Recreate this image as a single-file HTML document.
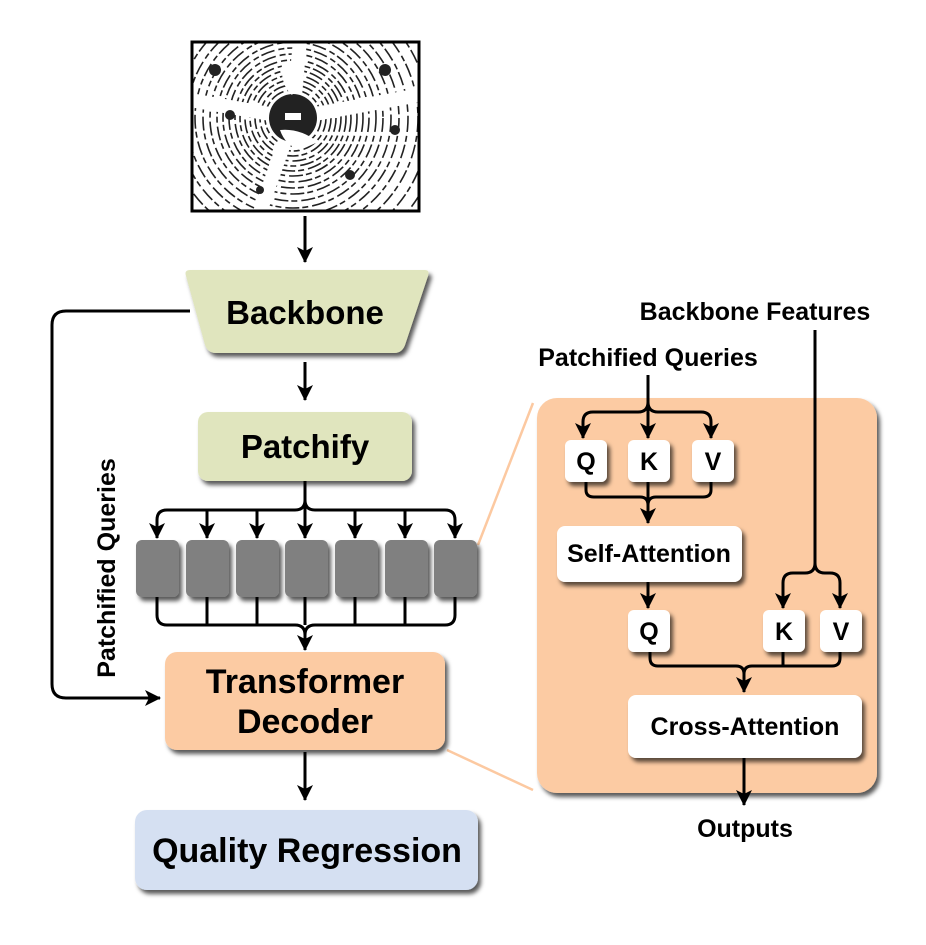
<!DOCTYPE html>
<html><head><meta charset="utf-8"><style>
html,body{margin:0;padding:0;background:#fff}
svg{display:block}
text{font-family:"Liberation Sans",Arial,sans-serif;font-weight:bold;fill:#000}
</style></head><body>
<svg width="926" height="945" viewBox="0 0 926 945" xmlns="http://www.w3.org/2000/svg">
<defs>
<filter id="sh" x="-10%" y="-10%" width="130%" height="130%">
<feDropShadow dx="3" dy="4" stdDeviation="2" flood-color="#000" flood-opacity="0.65"/>
</filter>
<clipPath id="ic"><rect x="193" y="43" width="225" height="167"/></clipPath>
<marker id="a" markerWidth="18" markerHeight="18" refX="16" refY="9" orient="auto" markerUnits="userSpaceOnUse" viewBox="0 0 18 18">
<path d="M1,1 L17,9 L1,17 L5,9 Z" fill="#000"/>
</marker>
</defs>

<g clip-path="url(#ic)">
<rect x="193" y="43" width="225" height="167" fill="#fff"/>
<g fill="none" stroke="#222" stroke-width="1.6" stroke-dasharray="14 4 6 3">
<circle cx="293" cy="118" r="28"/><circle cx="293" cy="118" r="33"/><circle cx="293" cy="118" r="38"/>
<circle cx="293" cy="118" r="43"/><circle cx="293" cy="118" r="48"/><circle cx="293" cy="118" r="53"/>
<circle cx="293" cy="118" r="58"/><circle cx="293" cy="118" r="64"/><circle cx="293" cy="118" r="70"/>
<circle cx="293" cy="118" r="76"/><circle cx="293" cy="118" r="83"/><circle cx="293" cy="118" r="90"/>
<circle cx="293" cy="118" r="98"/><circle cx="293" cy="118" r="106"/><circle cx="293" cy="118" r="115"/>
<circle cx="293" cy="118" r="125"/><circle cx="293" cy="118" r="136"/><circle cx="293" cy="118" r="148"/>
</g>
<g stroke="#fff" stroke-width="14">
<line x1="293" y1="118" x2="190" y2="100"/><line x1="293" y1="118" x2="420" y2="95"/>
<line x1="293" y1="118" x2="300" y2="40"/><line x1="293" y1="118" x2="260" y2="212"/>
</g>
<circle cx="293" cy="118" r="24" fill="#222"/>
<rect x="285" y="113" width="16" height="7" fill="#fff"/>
<path d="M280,130 Q300,128 318,142 L300,150 Q285,145 280,130Z" fill="#fff"/>
<path d="M282,62 Q298,58 302,80 L292,95 Q280,85 282,62Z" fill="#fff"/>
<g fill="#222"><circle cx="215" cy="70" r="6"/><circle cx="385" cy="70" r="6"/><circle cx="230" cy="115" r="5"/><circle cx="395" cy="130" r="5"/><circle cx="260" cy="190" r="4"/><circle cx="350" cy="175" r="5"/></g>
</g>
<rect x="192" y="42" width="227" height="169" fill="none" stroke="#000" stroke-width="3"/>

<g stroke="#000" stroke-width="3" fill="none">
<line x1="305" y1="216" x2="305" y2="262" marker-end="url(#a)"/>
<line x1="305" y1="362" x2="305" y2="400" marker-end="url(#a)"/>
<path d="M190,311 H66 Q52,311 52,325 V684 Q52,698 66,698 H160" marker-end="url(#a)"/>
<path d="M305,481 V500 Q305,510 295,510 H167 Q157,510 157,520 V538" marker-end="url(#a)"/>
<path d="M305,500 Q305,510 315,510 H445 Q455,510 455,520 V538" marker-end="url(#a)"/>
<path d="M207,510 V538" marker-end="url(#a)"/>
<path d="M257,510 V538" marker-end="url(#a)"/>
<path d="M305,500 V538" marker-end="url(#a)"/>
<path d="M355,510 V538" marker-end="url(#a)"/>
<path d="M405,510 V538" marker-end="url(#a)"/>
<path d="M157,597 V615 Q157,625 167,625 H295 Q305,625 305,635 V650" marker-end="url(#a)"/>
<path d="M455,597 V615 Q455,625 445,625 H315 Q305,625 305,635"/>
<path d="M207,597 V625"/><path d="M257,597 V625"/><path d="M305,597 V625"/><path d="M355,597 V625"/><path d="M405,597 V625"/>
<line x1="305" y1="752" x2="305" y2="800" marker-end="url(#a)"/>
</g>

<line x1="478" y1="545" x2="533" y2="403" stroke="#fcc9a1" stroke-width="2.5"/>
<line x1="447" y1="750" x2="533" y2="790" stroke="#fcc9a1" stroke-width="2.5"/>

<path d="M190,270 H425 Q430,270 428,276 L405,345 Q402,353 394,353 H216 Q208,353 205,345 L186,276 Q184,270 190,270Z" fill="#e0e5be" filter="url(#sh)"/>
<text x="305" y="324" font-size="33" text-anchor="middle">Backbone</text>
<rect x="198" y="412" width="214" height="69" rx="10" fill="#e0e5be" filter="url(#sh)"/>
<text x="305" y="458" font-size="33" text-anchor="middle">Patchify</text>

<g fill="#808080" filter="url(#sh)">
<rect x="136" y="540" width="43" height="57" rx="6"/><rect x="186" y="540" width="43" height="57" rx="6"/>
<rect x="236" y="540" width="43" height="57" rx="6"/><rect x="285" y="540" width="43" height="57" rx="6"/>
<rect x="335" y="540" width="43" height="57" rx="6"/><rect x="385" y="540" width="43" height="57" rx="6"/>
<rect x="434" y="540" width="43" height="57" rx="6"/>
</g>

<rect x="165" y="652" width="280" height="98" rx="12" fill="#fccba3" filter="url(#sh)"/>
<text x="305" y="693" font-size="34" text-anchor="middle">Transformer</text>
<text x="305" y="733" font-size="34" text-anchor="middle">Decoder</text>

<rect x="135" y="810" width="343" height="80" rx="12" fill="#d5e0f2" filter="url(#sh)"/>
<text x="307" y="862" font-size="34" text-anchor="middle">Quality Regression</text>

<text transform="translate(115,568) rotate(-90)" font-size="25" text-anchor="middle">Patchified Queries</text>

<rect x="537" y="398" width="340" height="395" rx="20" fill="#fccba3" filter="url(#sh)"/>
<text x="755" y="320" font-size="25" text-anchor="middle">Backbone Features</text>
<text x="648" y="366" font-size="25" text-anchor="middle">Patchified Queries</text>

<g stroke="#000" stroke-width="3" fill="none">
<path d="M648,375 V438" marker-end="url(#a)"/>
<path d="M648,402 Q648,412 638,412 H593 Q583,412 583,422 V438" marker-end="url(#a)"/>
<path d="M648,402 Q648,412 658,412 H701 Q711,412 711,422 V438" marker-end="url(#a)"/>
<path d="M586,482 V490 Q586,497 594,497 H640 Q648,497 648,505 V523" marker-end="url(#a)"/>
<path d="M711,482 V490 Q711,497 703,497 H656 Q648,497 648,505"/>
<path d="M648,482 V505"/>
<path d="M648,582 V608" marker-end="url(#a)"/>
<path d="M815,330 V563 Q815,573 805,573 H793 Q783,573 783,583 V608" marker-end="url(#a)"/>
<path d="M815,563 Q815,573 825,573 H830 Q840,573 840,583 V608" marker-end="url(#a)"/>
<path d="M650,652 V658 Q650,666 658,666 H736 Q744,666 744,674 V692" marker-end="url(#a)"/>
<path d="M840,652 V658 Q840,666 832,666 H752 Q744,666 744,674"/>
<path d="M783,652 V666"/>
<path d="M744,758 V805" marker-end="url(#a)"/>
</g>

<g fill="#fff" filter="url(#sh)">
<rect x="565" y="440" width="42" height="42" rx="6"/><rect x="628" y="440" width="42" height="42" rx="6"/><rect x="692" y="440" width="42" height="42" rx="6"/>
<rect x="557" y="526" width="185" height="56" rx="8"/>
<rect x="628" y="610" width="42" height="42" rx="6"/><rect x="763" y="610" width="42" height="42" rx="6"/><rect x="820" y="610" width="42" height="42" rx="6"/>
<rect x="628" y="695" width="234" height="63" rx="8"/>
</g>
<g font-size="25" text-anchor="middle">
<text x="586" y="470">Q</text><text x="649" y="470">K</text><text x="713" y="470">V</text>
<text x="649" y="640">Q</text><text x="784" y="640">K</text><text x="841" y="640">V</text>
</g>
<text x="649" y="562" font-size="25" text-anchor="middle">Self-Attention</text>
<text x="745" y="735" font-size="25" text-anchor="middle">Cross-Attention</text>
<text x="745" y="837" font-size="25" text-anchor="middle">Outputs</text>
</svg>
</body></html>
